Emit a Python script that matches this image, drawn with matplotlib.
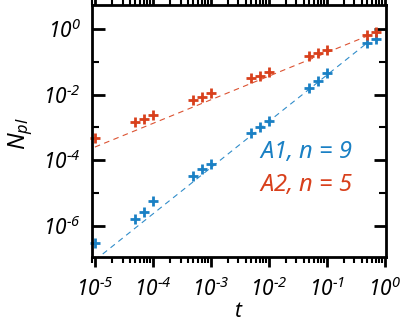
import matplotlib
matplotlib.use("Agg")
import matplotlib.pyplot as plt
import numpy as np
from matplotlib.ticker import LogLocator, NullFormatter, FixedLocator, FuncFormatter

plt.rcParams['font.family'] = ['Noto Sans', 'DejaVu Sans']
plt.rcParams['mathtext.fontset'] = 'custom'
plt.rcParams['mathtext.rm'] = 'Noto Sans:italic'
plt.rcParams['mathtext.it'] = 'Noto Sans:italic'
plt.rcParams['mathtext.sf'] = 'Noto Sans:italic'

t = [1e-5, 5e-5, 7e-5, 1e-4, 5e-4, 7e-4, 1e-3, 5e-3, 7e-3, 1e-2,
     5e-2, 7e-2, 1e-1, 5e-1, 7e-1]
a1 = [3.0e-7, 1.6e-6, 2.6e-6, 5.6e-6, 3.3e-5, 5.4e-5, 7.6e-5, 6.6e-4, 1.0e-3,
      1.6e-3, 0.016, 0.026, 0.045, 0.36, 0.50]
a2 = [4.8e-4, 1.45e-3, 1.8e-3, 2.3e-3, 6.8e-3, 8.5e-3, 0.0114, 0.032, 0.038,
      0.050, 0.145, 0.18, 0.23, 0.66, 0.80]
fit_a1 = (1.0, 1.41)   # prefactor, exponent
fit_a2 = (1.0, 0.72)
fit_range = (1e-5, 0.5)

blue = '#1a80c4'
red = '#d8401c'

fig = plt.figure(figsize=(4.15, 3.32), dpi=100)
ax = fig.add_axes([0.2217, 0.226, 0.708, 0.759])

tf = np.logspace(np.log10(fit_range[0]), np.log10(fit_range[1]), 50)
ax.plot(tf, fit_a1[0] * tf ** fit_a1[1], ls=(0, (5, 4)), lw=0.8, color=blue, alpha=0.9)
ax.plot(tf, fit_a2[0] * tf ** fit_a2[1], ls=(0, (5, 4)), lw=0.8, color=red, alpha=0.9)
ax.plot(t, a1, ls='none', marker='+', ms=7, mew=2, color=blue, clip_on=False)
ax.plot(t, a2, ls='none', marker='+', ms=7, mew=2, color=red, clip_on=False)

ax.set_xscale('log')
ax.set_yscale('log')
ax.set_xlim(10 ** -5.05, 10 ** 0.02)
ax.set_ylim(10 ** -6.95, 10 ** 0.73)

def fmt(v, pos):
    e = int(round(np.log10(v)))
    return r'$10^{%d}$' % e

ax.xaxis.set_major_locator(LogLocator(base=10, numticks=20))
ax.xaxis.set_minor_locator(LogLocator(base=10, subs=np.arange(2, 10), numticks=20))
ax.xaxis.set_minor_formatter(NullFormatter())
ax.xaxis.set_major_formatter(FuncFormatter(fmt))
ax.yaxis.set_major_locator(FixedLocator([1e-6, 1e-4, 1e-2, 1e0]))
ax.yaxis.set_minor_locator(FixedLocator([1e-7, 1e-5, 1e-3, 1e-1]))
ax.yaxis.set_minor_formatter(NullFormatter())
ax.yaxis.set_major_formatter(FuncFormatter(fmt))

for s in ax.spines.values():
    s.set_linewidth(2)
ax.tick_params(which='major', direction='in', length=9, width=2, top=True, right=True,
               labelsize=15)
ax.tick_params(which='minor', direction='in', length=5, width=1.5, top=True, right=True)
ax.tick_params(axis='x', which='major', direction='out', length=7, pad=8)
ax.tick_params(axis='x', which='minor', direction='out', length=4)
ax.tick_params(axis='y', which='major', pad=8)

ax.set_xlabel(r'$t$', fontsize=15, labelpad=0)
ax.set_ylabel(r'$N_{pl}$', fontsize=17)
ax.yaxis.set_label_coords(-0.195, 0.49)

ax.text(0.57, 0.415, r'$A1$, $n$ = 9', transform=ax.transAxes, color=blue,
        fontsize=17, style='italic', va='center')
ax.text(0.57, 0.285, r'$A2$, $n$ = 5', transform=ax.transAxes, color=red,
        fontsize=17, style='italic', va='center')

fig.savefig('out.png', dpi=100)
